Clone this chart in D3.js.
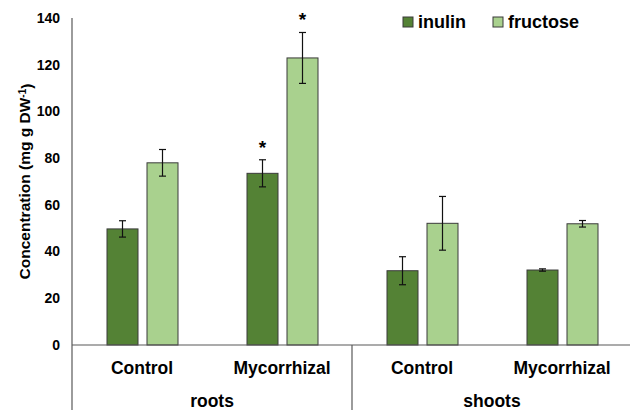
<!DOCTYPE html>
<html>
<head>
<meta charset="utf-8">
<script src="https://cdn.jsdelivr.net/npm/d3@7"></script>
<style>
  body { margin: 0; background: #fff; }
  text { font-family: "Liberation Sans", Arial, sans-serif; font-weight: bold; fill: #000; }
</style>
</head>
<body>
<svg id="chart"></svg>
<script>
// data
let organs = ["roots", "shoots"];
let treatments = ["Control", "Mycorrhizal"];
let series = ["inulin", "fructose"];
let inulinMean = [49.7, 73.5, 31.8, 32.1];
let inulinErr = [3.5, 5.8, 6.0, 0.5];
let fructoseMean = [78.0, 122.9, 52.1, 51.9];
let fructoseErr = [5.7, 10.9, 11.5, 1.4];
let significant = [[false, true, false, false], [false, true, false, false]];
let yTicks = [0, 20, 40, 60, 80, 100, 120, 140];
let colors = ["#548235", "#a9d18e"];

let width = 630, height = 410;
let svg = d3.select("#chart").attr("width", width).attr("height", height);

let cats = [];
organs.forEach(o => treatments.forEach(t => cats.push(o + "|" + t)));

let x = d3.scaleBand().domain(cats).range([72, 632]);
let xs = d3.scaleBand().domain(series).range([35, 106]).paddingInner(0.225);
let y = d3.scaleLinear().domain([0, 140]).range([345, 18]);

let rows = [];
cats.forEach((c, i) => {
    rows.push({cat: c, s: 0, v: inulinMean[i], e: inulinErr[i], star: significant[0][i]});
    rows.push({cat: c, s: 1, v: fructoseMean[i], e: fructoseErr[i], star: significant[1][i]});
});

// bars
svg.append("g").selectAll("rect").data(rows).join("rect")
    .attr("x", d => x(d.cat) + xs(series[d.s]))
    .attr("y", d => y(d.v))
    .attr("width", xs.bandwidth())
    .attr("height", d => y(0) - y(d.v))
    .attr("fill", d => colors[d.s])
    .attr("stroke", "#3a3a3a")
    .attr("stroke-width", 1);

// error bars
let eb = svg.append("g").attr("stroke", "#111").attr("stroke-width", 1.2);
rows.forEach(d => {
    let cx = x(d.cat) + xs(series[d.s]) + xs.bandwidth() / 2;
    eb.append("line").attr("x1", cx).attr("x2", cx).attr("y1", y(d.v + d.e)).attr("y2", y(d.v - d.e));
    [d.v + d.e, d.v - d.e].forEach(v => {
        eb.append("line").attr("x1", cx - 3.5).attr("x2", cx + 3.5).attr("y1", y(v)).attr("y2", y(v));
    });
    if (d.star) {
        svg.append("text").attr("x", cx).attr("y", y(d.v + d.e) - 6)
            .attr("text-anchor", "middle").style("font-size", "19px").text("*");
    }
});

// axes lines
let axisColor = "#595959";
svg.append("line").attr("x1", 72).attr("x2", 72).attr("y1", y(140)).attr("y2", height)
    .attr("stroke", axisColor).attr("stroke-width", 1.2);
svg.append("line").attr("x1", 72).attr("x2", width).attr("y1", y(0)).attr("y2", y(0))
    .attr("stroke", axisColor).attr("stroke-width", 1.2);
svg.append("line").attr("x1", x("shoots|Control")).attr("x2", x("shoots|Control"))
    .attr("y1", y(0)).attr("y2", height).attr("stroke", axisColor).attr("stroke-width", 1.2);

// y tick labels
svg.append("g").selectAll("text").data(yTicks).join("text")
    .attr("x", 60).attr("y", d => y(d)).attr("dy", "0.35em")
    .attr("text-anchor", "end").style("font-size", "14px").text(d => d);

// y title
let yt = svg.append("text").attr("transform", "translate(30," + (y(0) + y(140)) / 2 + ") rotate(-90)")
    .attr("text-anchor", "middle").style("font-size", "15.5px");
yt.append("tspan").text("Concentration (mg g DW");
yt.append("tspan").attr("dy", "-0.4em").style("font-size", "10px").text("-1");
yt.append("tspan").attr("dy", "0.4em").text(")");

// category labels
svg.append("g").selectAll("text").data(cats).join("text")
    .attr("x", d => x(d) + x.bandwidth() / 2).attr("y", 368).attr("dy", "0.35em")
    .attr("text-anchor", "middle").style("font-size", "17.5px").text(d => d.split("|")[1]);
svg.append("g").selectAll("text").data(organs).join("text")
    .attr("x", o => x(o + "|Control") + x.bandwidth()).attr("y", 401).attr("dy", "0.35em")
    .attr("text-anchor", "middle").style("font-size", "17.5px").text(d => d);

// legend
let lg = svg.append("g").selectAll("g").data(series).join("g")
    .attr("transform", (d, i) => "translate(" + [403, 493][i] + ",17)");
lg.append("rect").attr("width", 10).attr("height", 10)
    .attr("fill", (d, i) => colors[i]).attr("stroke", "#3a3a3a").attr("stroke-width", 1);
lg.append("text").attr("x", 15).attr("y", 5).attr("dy", "0.35em")
    .style("font-size", "18px").text(d => d);
</script>
</body>
</html>
